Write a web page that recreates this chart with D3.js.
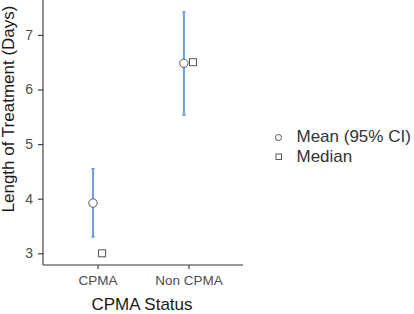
<!DOCTYPE html>
<html><head><meta charset="utf-8">
<script src="https://cdn.jsdelivr.net/npm/d3@7"></script>
<style>body{margin:0;background:#fff}svg{display:block}text{font-family:"Liberation Sans",Arial,sans-serif}</style>
</head><body>
<script>
const categories = ["CPMA", "Non CPMA"];
const meanValues = [3.92, 6.48];
const ciLower = [3.30, 5.53];
const ciUpper = [4.55, 7.42];
const medianValues = [3.0, 6.5];
const yTicks = [3, 4, 5, 6, 7];
const legendLabels = ["Mean (95% CI)", "Median"];

const W = 414, H = 314;
const svg = d3.select("body").append("svg").attr("width", W).attr("height", H);
const L = 43, R = 243, T = 0, B = 265;
const y = d3.scaleLinear().domain([3, 7]).range([253.3, 34.9]);
const xPos = d3.scaleLinear().domain([0.4, 2.6]).range([L, R]);
const xc = i => xPos(i + 1);
const dodge = 0.05;
const FF = '"Liberation Sans",Arial,sans-serif';

// axes
const yAxis = d3.axisLeft(y).tickValues(yTicks).tickSize(5).tickPadding(5).tickFormat(d3.format("d"));
const gy = svg.append("g").attr("transform", `translate(${L},0)`).call(yAxis);
gy.select(".domain").attr("d", `M0,${T}V${B}`);
const xs = d3.scalePoint().domain(categories).range([xc(0), xc(1)]);
const gx = svg.append("g").attr("transform", `translate(0,${B})`).call(d3.axisBottom(xs).tickSize(4).tickPadding(6));
gx.select(".domain").attr("d", `M${L},0H${R}`);
[gx, gy].forEach(g => {
  g.select(".domain").attr("stroke", "#333").attr("stroke-width", 1.1);
  g.selectAll(".tick line").attr("stroke", "#333").attr("stroke-width", 1.1);
  g.selectAll(".tick text").attr("fill", "#4d4d4d").style("font-size", "13.5px").style("font-family", FF);
});
gy.selectAll(".tick text").style("font-size", "14px");

// error bars
const eb = svg.append("g");
categories.forEach((c, i) => {
  const x0 = xPos(i + 1 - dodge);
  eb.append("line").attr("x1", x0).attr("x2", x0).attr("y1", y(ciLower[i])).attr("y2", y(ciUpper[i]))
    .attr("stroke", "#6d9eeb").attr("stroke-width", 2);
  [ciLower[i], ciUpper[i]].forEach(v => {
    eb.append("line").attr("x1", x0 - 1.8).attr("x2", x0 + 1.8).attr("y1", y(v)).attr("y2", y(v))
      .attr("stroke", "#6d9eeb").attr("stroke-width", 1.5);
  });
});
// means
svg.append("g").selectAll("circle").data(meanValues).join("circle")
  .attr("cx", (d, i) => xPos(i + 1 - dodge)).attr("cy", d => y(d)).attr("r", 4.2)
  .attr("fill", "#fff").attr("stroke", "#555").attr("stroke-width", 1);
// medians
const s = 7;
svg.append("g").selectAll("rect").data(medianValues).join("rect")
  .attr("x", (d, i) => xPos(i + 1 + dodge) - s / 2).attr("y", d => y(d) - s / 2).attr("width", s).attr("height", s)
  .attr("fill", "#fff").attr("stroke", "#555").attr("stroke-width", 1);

// titles
svg.append("text").attr("x", 142).attr("y", 309.5).attr("text-anchor", "middle")
  .attr("fill", "#1a1a1a").style("font-size", "17px").text("CPMA Status");
svg.append("text").attr("transform", "translate(13.5,109) rotate(-90)").attr("text-anchor", "middle")
  .attr("fill", "#1a1a1a").style("font-size", "17px").text("Length of Treatment (Days)");

// legend
const lg = svg.append("g");
lg.append("circle").attr("cx", 278.5).attr("cy", 137.5).attr("r", 3).attr("fill", "#fff").attr("stroke", "#555").attr("stroke-width", 1);
lg.append("rect").attr("x", 276).attr("y", 154).attr("width", 5.5).attr("height", 5.5).attr("fill", "#fff").attr("stroke", "#555").attr("stroke-width", 1);
legendLabels.forEach((t, i) => {
  lg.append("text").attr("x", 296.5).attr("y", 142.3 + i * 20).attr("fill", "#333").style("font-size", "17px").text(t);
});
</script>
</body></html>
